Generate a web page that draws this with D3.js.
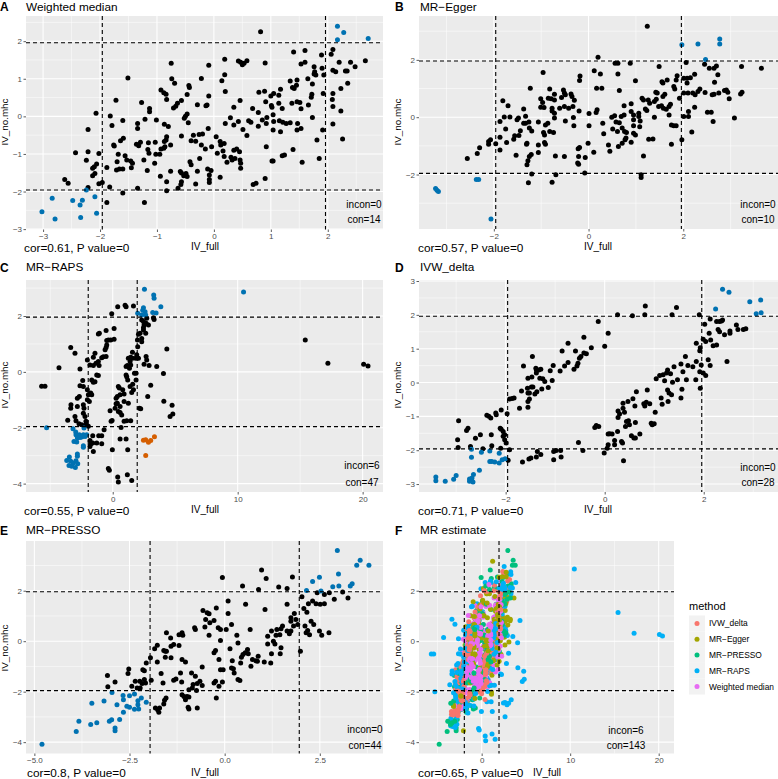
<!DOCTYPE html>
<html><head><meta charset="utf-8"><style>html,body{margin:0;background:#fff}svg{display:block}text{font-family:"Liberation Sans",Arial,sans-serif}</style>
<script src="https://cdn.jsdelivr.net/npm/d3@7"></script></head><body><div id="c"></div><script>
const wmBlue=[[2.17,2.4],[2.28,2.23],[2.17,2.04],[2.71,2.07],[-3.02,-2.54],[-2.84,-2.18],[-2.79,-2.73],[-2.48,-2.24],[-2.31,-2.23],[-2.35,-2.36],[-2.34,-2.69],[-2.09,-2.14],[-2.06,-2.58],[-2.24,-1.96]];
const wmBlack=[[-2.62,-1.68],[-2.56,-1.78],[-2.43,-.97],[-2.24,-1.17],[-2.21,-.94],[-2.21,-.35],[-2.07,.08],[-2.02,-.99],[-2.06,-1.27],[-2.1,-1.34],[-2.13,-1.38],[-2.09,-1.52],[-2.13,-1.58],[-2.21,-1.89],[-2.02,-1.79],[-1.96,-1.76],[-1.88,-1.36],[-1.88,-2.29],[-1.83,-1.88],[-1.82,.01],[-1.79,-.24],[-1.76,-.76],[-1.75,-.79],[-1.72,.43],[-1.71,-1.43],[-1.7,-1.21],[-1.68,-1.01],[-1.64,-.65],[-1.59,-.58],[-1.6,-.11],[-1.6,-2.04],[-1.6,-1.4],[-1.66,-1.4],[-1.56,-1.05],[-1.53,-1.16],[-1.51,1.02],[-1.46,-1.19],[-1.43,-1.25],[-1.45,-1.37],[-1.34,-.19],[-1.34,-.32],[-1.36,-.74],[-1.32,-.78],[-1.34,-1.91],[-1.27,.37],[-1.29,-.69],[-1.22,-2.29],[-1.23,-1.16],[-1.21,-.08],[-1.17,-1.44],[-1.16,-.88],[-1.15,-.7],[-1.13,.21],[-1.13,.12],[-1.14,-.98],[-1.04,-1.25],[-1.03,-.69],[-1.01,-.1],[-1.02,-1.01],[-.95,-1.01],[-.94,-1.59],[-.93,.7],[-.88,.63],[-.93,-.87],[-.88,-.85],[-.86,-.81],[-.87,-.67],[-.87,-.21],[-.84,.59],[-.83,.45],[-.8,-.27],[-.83,-1.98],[-.83,-1.74],[-.83,-.54],[-.84,-.63],[-.76,-.76],[-.76,-1.46],[-.75,1.41],[-.74,1],[-.69,.88],[-.71,.22],[-.67,.27],[-.64,.35],[-.63,-1.91],[-.59,-1.47],[-.57,.42],[-.57,-.52],[-.57,-1.51],[-.57,-1.74],[-.58,-1.81],[-.53,-1.58],[-.52,-.05],[-.5,0],[-.47,.06],[-.47,.58],[-.49,-1.52],[-.47,-1.6],[-.44,.82],[-.43,.77],[-.45,-.17],[-.42,-1.21],[-.4,-1.29],[-.4,-.65],[-.36,-.5],[-.32,-.66],[-.32,-1.8],[-.29,.31],[-.29,-1.46],[-.26,-.48],[-.25,-1.12],[-.22,1.01],[-.2,-.47],[-.22,-.76],[-.15,-.87],[-.14,.28],[-.12,.3],[-.09,1.36],[-.09,.54],[-.1,-.32],[-.11,-1.4],[-.08,-1.56],[-.08,-1.68],[-.08,-1.76],[-.04,-.81],[-.05,-1.44],[.04,-.54],[.06,-.98],[.11,-1.62],[.11,-.67],[.12,-.76],[.14,.95],[.18,-.72],[.19,1.52],[.19,1.11],[.2,.66],[.2,-.19],[.16,-.92],[.18,-1.07],[.23,-1.22],[.29,-.04],[.3,-1.09],[.32,-1.16],[.35,-.23],[.35,.24],[.35,-.9],[.37,-1.12],[.4,-.87],[.43,-.14],[.43,1.47],[.47,1.44],[.5,1.37],[.53,1.41],[.58,1.48],[.46,.42],[.45,-.94],[.46,-1.16],[.47,-1.25],[.47,-1.38],[.51,-.35],[.58,-.51],[.61,-.12],[.65,-.16],[.68,.21],[.69,-1.81],[.74,-1.78],[.78,.1],[.78,-.26],[.79,.64],[.82,2.25],[.85,-.1],[.89,.67],[.9,1.42],[.91,.39],[.9,-1.65],[.92,-.81],[.92,-.19],[.93,-.03],[1,.54],[1.01,.29],[1.02,.24],[1.05,.61],[1.04,.04],[1.05,-.14],[1.04,-.36],[1.02,-1.19],[1.04,-1.19],[1.14,.35],[1.14,.56],[1.17,.72],[1.15,-.12],[1.17,-.41],[1.2,.21],[1.21,-.16],[1.2,-1.05],[1.24,-1.03],[1.27,-.19],[1.34,.94],[1.34,-.17],[1.37,.35],[1.38,.77],[1.4,1.71],[1.39,-.88],[1.41,.74],[1.45,.83],[1.46,.97],[1.46,-.36],[1.46,.39],[1.47,-.19],[1.51,.37],[1.53,-.32],[1.53,1.39],[1.53,.2],[1.55,-1.22],[1.6,1.75],[1.6,1.44],[1.65,1],[1.66,.3],[1.71,.51],[1.72,.59],[1.73,-.03],[1.73,.86],[1.76,1.13],[1.76,1.32],[1.77,1.19],[1.79,1.1],[1.81,-.63],[1.85,-1.12],[1.89,1.63],[1.9,1.28],[1.91,-.36],[1.92,.61],[1.93,1.1],[2.06,1.65],[2.09,1.78],[2.09,.61],[2.08,.45],[2.09,.26],[2.09,-.2],[2.09,1.23],[2.14,1.19],[2.2,1.44],[2.23,.74],[2.23,.14],[2.26,-.6],[2.31,1.21],[2.34,1.21],[2.35,.88],[2.4,1.44],[2.48,1.32],[2.66,1.48]];
const eggerBlue=[[-3.23,-2.49],[-3.2,-2.55],[-3.17,-2.59],[-2.37,-2.17],[-2.32,-2.17],[-2.06,-3.55],[1.97,2.53],[2.31,2.55],[2.77,2.73],[2.77,2.55],[2.47,2.01]];
const eggerBlack=[[-2.56,-1.44],[-2.35,-1.27],[-2.3,-1.07],[-2.11,-.94],[-2.11,-.85],[-2.07,-.79],[-1.96,-.93],[-1.87,-1.14],[-1.87,-.15],[-1.87,-.7],[-1.81,.57],[-1.78,.01],[-1.75,-.41],[-1.73,-.88],[-1.7,.4],[-1.66,.01],[-1.58,-.77],[-1.56,-.65],[-1.53,-1.33],[-1.51,-.09],[-1.48,-.03],[-1.47,-.64],[-1.44,-.47],[-1.37,.29],[-1.37,-.21],[-1.33,.03],[-1.33,-.21],[-1.3,-.91],[-1.31,-.94],[-1.3,-1.66],[-1.28,-1.52],[-1.25,-1.37],[-1.21,-1.3],[-1.27,-2.29],[-1.23,1.01],[-1.25,-.38],[-1.2,-.48],[-1.26,-.17],[-1.2,-1.98],[-1.06,-.17],[-1.06,-.97],[-1.06,-1.23],[-1.01,.64],[-1.01,.35],[-.97,.51],[-.96,1.56],[-.94,.34],[-.95,-.53],[-.93,-.62],[-.93,-.88],[-.91,-.94],[-.91,-.27],[-.86,-.21],[-.85,.66],[-.82,.98],[-.79,.64],[-.77,.31],[-.77,.22],[-.77,-2.27],[-.82,-.5],[-.74,-.53],[-.72,.8],[-.72,.6],[-.72,.14],[-.72,-.03],[-.7,-1.35],[-.69,-2.01],[-.61,.31],[-.57,.69],[-.53,.95],[-.51,.84],[-.51,.37],[-.49,.78],[-.51,-1.37],[-.49,-.13],[-.42,.31],[-.37,.81],[-.35,.72],[-.33,.37],[-.32,-.01],[-.31,-.3],[-.3,.59],[-.22,-1.1],[-.19,-1.06],[-.23,-1.6],[-.21,-1.37],[-.2,.22],[-.19,1.28],[-.18,1.44],[-.21,-1.64],[-.08,-1.95],[-.07,-1.41],[-.01,-.91],[.01,.13],[.01,-.3],[.11,-1.22],[.12,1.62],[.17,1.01],[.16,.16],[.18,.26],[.2,2.09],[.25,1.51],[.28,1.01],[.3,-.21],[.32,-.58],[.42,-.97],[.45,-1.19],[.49,0],[.51,-.41],[.55,.05],[.56,1.88],[.62,1.88],[.62,1.51],[.58,-.17],[.61,-.5],[.63,-1.02],[.65,.93],[.65,-.19],[.69,.02],[.71,-.91],[.71,-.38],[.75,.4],[.75,.08],[.77,-.79],[.76,-.5],[.8,-.53],[.79,-.73],[.88,1.88],[.9,.47],[.9,.2],[.9,-.87],[.95,.08],[.95,-.09],[.95,-.3],[.95,-.56],[.99,1.27],[.99,-.62],[1.06,.14],[1.06,.02],[1.09,-.13],[1.08,-.33],[1.11,-2.01],[1.11,-2.1],[1.13,.66],[1.16,.6],[1.16,-1.35],[1.2,.29],[1.23,.23],[1.24,3.17],[1.26,.6],[1.29,.49],[1.27,-.77],[1.36,-.76],[1.39,0],[1.39,.55],[1.42,.87],[1.45,.84],[1.43,.63],[1.48,.37],[1.49,1.77],[1.55,1.24],[1.57,1.19],[1.57,.72],[1.54,.4],[1.58,.31],[1.61,.8],[1.64,.28],[1.66,1.3],[1.7,.08],[1.7,.37],[1.73,.45],[1.75,-.27],[1.75,-.94],[1.8,-.3],[1.8,1.07],[1.82,.98],[1.85,1.3],[1.85,-.3],[1.87,1.45],[1.92,.66],[1.97,-.79],[2.01,1.36],[2.01,.84],[2.01,.02],[2.06,1.91],[2.08,1.36],[2.08,1.19],[2.1,.84],[2.11,.2],[2.11,.02],[2.15,1.38],[2.18,-.52],[2.2,.84],[2.24,1.5],[2.24,.35],[2.25,.78],[2.31,.9],[2.35,.98],[2.45,1.85],[2.46,.86],[2.51,.17],[2.55,1.71],[2.59,.17],[2.63,-.15],[2.61,.78],[2.65,1.71],[2.66,1.22],[2.7,1.79],[2.65,.8],[2.73,1.48],[2.75,.84],[2.87,.93],[2.91,.95],[2.94,.87],[2.97,.64],[3.08,-.03],[3.21,.81],[3.24,.87],[3.23,1.77],[3.65,1.71]];
const rapsBlue=[[2.54,2.96],[3.28,2.75],[3.31,2.64],[3.85,2.33],[2.46,2.3],[2.4,2.21],[2.59,2.15],[2,2.1],[2.32,2.04],[2.64,2.04],[3.2,2.13],[3.47,2.11],[10.47,2.86],[-5.29,-2],[-3.18,-2.04],[-2.96,-2.15],[-2.94,-2.25],[-2.67,-2.25],[-2.48,-2.33],[-2.35,-2.25],[-2.3,-2.01],[-2.08,-2.25],[-3.1,-2.49],[-2.88,-2.51],[-2.35,-2.64],[-2.35,-2.7],[-2.83,-2.94],[-2.83,-3.02],[-3.47,-3.05],[-3.68,-3.17],[-3.36,-3.2],[-3.5,-3.35],[-3.28,-3.38],[-2.99,-3.42],[-2.8,-3.29],[-3.15,-3.26],[-2.94,-3.18],[-2.83,-2.37],[-2.62,-2.35],[-2.22,-2.31]];
const rapsOrange=[[2.46,-2.45],[2.64,-2.43],[2.86,-2.52],[3.04,-2.46],[3.34,-2.32],[2.64,-2.99]];
const rapsBlack=[[-5.69,-.51],[-5.42,-.51],[-4.3,.15],[-3.36,.87],[-3.02,.67],[-3.6,-1.73],[-3.36,-1.3],[-3.34,-1.18],[-3.02,-1.6],[-2.94,-1.75],[-2.83,-.94],[-2.83,-1.24],[-2.62,.1],[-2.62,-.5],[-2.67,-.88],[-2.7,-1.86],[-2.48,-1.89],[-2.4,-.31],[-2.35,-.52],[-2.35,-1.18],[-2.35,-1.48],[-2.22,-1.6],[-2.3,-1.3],[-2.14,-1.77],[-2.03,.43],[-2.03,-.64],[-1.95,-1.95],[-2.14,-1.89],[-1.95,-.82],[-2.03,-1],[-1.87,-1.06],[-1.82,.25],[-1.68,-.82],[-1.76,-.76],[-1.82,-2.46],[-1.76,-2.58],[-1.82,-2.67],[-1.6,-2.55],[-1.6,-2.29],[-1.55,-2.85],[-1.55,.23],[-1.55,.52],[-1.42,.67],[-1.34,.31],[-1.42,-.35],[-1.68,-.29],[-1.55,-.37],[-1.28,-.11],[-1.15,-.13],[-1.28,-2.55],[-1.12,-2.29],[-1.15,1.36],[-1.07,1.38],[-1.15,.37],[-1.09,.23],[-.88,.51],[-.75,.54],[-.88,-2.29],[-.88,-2.57],[-.53,.55],[-.69,-2.07],[-.61,.79],[-.53,.87],[-.48,.96],[-.53,1.48],[-.48,1.12],[-.35,1.14],[-.16,1.14],[.11,1.17],[.11,1.55],[-.08,2.08],[.4,2.33],[-.03,-2.79],[-.35,-3.46],[-.27,-3.52],[-.21,-1.39],[-.13,-1.77],[-.05,-1.74],[.19,-1.3],[.27,-1.14],[.27,-.94],[.4,-3.76],[.45,-3.94],[.53,-.58],[.59,-.82],[.37,-1.12],[.37,-.88],[.59,-1.24],[.59,-1.45],[.45,-1.42],[.72,-1.54],[.59,-2.4],[.67,-1.99],[.45,-.52],[.8,-.64],[.91,-.79],[.91,-1.06],[1.07,-.11],[1.07,.19],[1.17,.23],[.99,2.39],[1.07,2.33],[1.07,-2.4],[1.17,-3.68],[1.2,-2.79],[1.25,-1.12],[1.12,-.17],[1.2,-.29],[1.39,-.52],[1.25,.49],[1.34,.13],[1.52,-3.89],[1.39,.37],[1.44,.25],[1.44,.52],[1.58,.7],[1.66,2.36],[1.58,.49],[1.74,-.05],[1.6,-.44],[.91,-1.77],[1.12,-1.75],[1.44,-1.75],[1.52,-.74],[1.66,-.64],[1.87,-.29],[1.84,.49],[1.87,-.05],[1.92,.61],[2,.9],[2.06,.49],[2.14,-1.3],[2.24,-1.32],[1.98,1.14],[2.06,1.35],[2.19,1.38],[2.32,1.2],[2.32,1.08],[2.46,1.5],[2.51,1.68],[2.32,1.86],[2.46,1.8],[2.67,1.74],[2.72,1.92],[2.86,1.68],[2.46,1.58],[2.64,1.38],[2.51,.27],[2.67,.55],[2.72,.43],[2.91,.23],[2.8,-.88],[3.04,-.48],[3.52,.19],[4.06,-.06],[4.09,-1.05],[4.33,.82],[4.75,-1.19],[4.59,-1.6],[4.81,-1.51],[15.41,1.14],[17.22,.31],[20.08,.27],[20.43,.21],[3.31,1.88],[3.26,1.94]];
const ivwBlue=[[-3.41,-2.79],[-3.41,-2.9],[-3.22,-2.92],[-3.05,-2.86],[-3,-2.75],[-2.73,-2.85],[-2.73,-2.92],[-2.66,-2.94],[-2.68,-2.82],[-2.65,-2.72],[-2.69,-1.97],[-2.69,-2.21],[-2.53,-2.59],[-2.49,-2.06],[-2.32,-2.02],[-2.32,-2.33],[-2.28,-2.33],[-2.22,-2.35],[-2.13,-2.09],[-2.13,-2.38],[-2.07,-2.28],[-2.01,-2.25],[2.24,2.17],[2.38,2.76],[2.51,2.67],[2.93,2.39],[3.15,2.44],[3.06,2.03],[3.16,2.06]];
const ivwBlack=[[-2.95,-1.13],[-2.97,-1.69],[-2.96,-1.92],[-2.79,-1.42],[-2.76,-1.35],[-2.71,-1.89],[-2.61,-1.65],[-2.51,-1.54],[-2.46,-1.96],[-2.38,-.97],[-2.34,-1],[-2.3,-1.05],[-2.29,-1.54],[-2.28,-1.87],[-2.2,-.9],[-2.19,-.95],[-2.11,-1.35],[-2.09,-1.38],[-2.1,-1.94],[-2.09,-.81],[-2.05,-1.45],[-2.02,-1.54],[-2.05,-1.59],[-2.02,-1.69],[-1.99,-1.79],[-1.97,-.92],[-1.95,-2.3],[-1.92,-1.99],[-1.92,-.49],[-1.87,-.47],[-1.83,-.46],[-1.72,-.76],[-1.68,-.25],[-1.66,-2.35],[-1.64,.49],[-1.56,-.17],[-1.55,.13],[-1.55,-.73],[-1.55,-.56],[-1.52,-.49],[-1.55,-.31],[-1.52,-.31],[-1.53,-2.26],[-1.49,-2.23],[-1.47,.16],[-1.46,.77],[-1.48,-.13],[-1.45,-.13],[-1.41,-.34],[-1.39,.42],[-1.38,.28],[-1.38,.37],[-1.37,-.27],[-1.36,-2.04],[-1.38,-2.2],[-1.33,.37],[-1.29,.39],[-1.31,.13],[-1.29,-2.13],[-1.27,-.19],[-1.25,.11],[-1.21,.03],[-1.14,-.15],[-1.1,.35],[-1.06,.06],[-1.03,-2.04],[-1.03,-2.28],[-1.04,.5],[-.98,-2.01],[-.9,.34],[-.89,-2.01],[-.88,-2.2],[-.86,.93],[-.81,.49],[-.74,1.16],[-.74,.59],[-.62,.39],[-.59,.93],[-.56,.49],[-.54,.57],[-.51,.72],[-.48,.77],[-.53,-1.77],[-.44,-2.01],[-.42,1.34],[-.42,.87],[-.37,.85],[-.27,1.03],[-.2,-1.33],[-.17,-1.27],[-.12,-1.3],[-.13,1.8],[-.01,-2.08],[0,1.07],[.05,-1.94],[.07,1.46],[.07,-1.84],[.07,-1.52],[.1,-1.51],[.15,-1.52],[.2,-1.84],[.2,-1.71],[.26,2],[.26,-1.45],[.27,-.84],[.27,-1.03],[.3,-.93],[.34,-1.74],[.36,-1.79],[.38,-2.31],[.37,-.61],[.37,-.76],[.4,-.88],[.42,-1.3],[.44,-1.15],[.47,-.56],[.48,-1.13],[.5,-1.25],[.54,-1.57],[.56,1.97],[.57,-.48],[.59,-1.64],[.62,-1.64],[.61,-.69],[.62,-1.18],[.64,-.27],[.71,-1.52],[.79,-.63],[.81,-.69],[.81,2],[.82,2.26],[.84,-.58],[.86,-.22],[.91,-.63],[.94,-1.2],[.96,-1.25],[1,-1.22],[1.02,-.88],[1.04,.11],[1.11,.21],[1.14,-.46],[1.16,-.64],[1.18,.23],[1.21,.05],[1.25,.28],[1.27,.37],[1.28,-.56],[1.27,-.22],[1.3,-.31],[1.33,.26],[1.35,-.36],[1.36,2],[1.37,.01],[1.4,.47],[1.45,2.22],[1.47,.08],[1.54,-.46],[1.54,.55],[1.58,.32],[1.56,-.2],[1.63,.77],[1.65,.08],[1.68,.5],[1.78,.47],[1.84,.08],[1.85,.62],[1.85,1.16],[1.92,.94],[1.91,2],[1.93,1.03],[1.92,.32],[1.93,-.17],[1.95,.52],[1.99,1.28],[1.99,.28],[2.02,1.72],[2.04,.21],[2.04,1.21],[2.09,.67],[2.11,1.46],[2.13,1.88],[2.13,.5],[2.14,1.26],[2.19,1.09],[2.26,1.11],[2.26,1.8],[2.29,1.57],[2.32,1.8],[2.36,1.82],[2.38,1.85],[2.32,1.5],[2.42,1.41],[2.47,.62],[2.53,1.46],[2.53,1.52],[2.66,1.7],[2.69,1.57],[2.8,1.57],[2.85,1.59]];
const pressoBlue=[[-4.8,-4.08],[-3.9,-3.58],[-3.83,-3.17],[-3.52,-3.3],[-3.36,-3.23],[-3.49,-2.46],[-3.17,-2.37],[-3.03,-3.17],[-2.97,-3.11],[-2.96,-2.03],[-2.88,-3.44],[-2.88,-3.55],[-2.83,-2.52],[-2.76,-3.1],[-2.67,-2.15],[-2.66,-2.32],[-2.66,-2.82],[-2.57,-2.58],[-2.5,-2.62],[-2.5,-2.16],[-2.37,-2.09],[-2.37,-2.7],[-2.28,-2.52],[-2.26,-2.69],[-2.28,-2.36],[-2.19,-2.25],[-2.06,-2.42],[2.15,2.01],[2.31,2.37],[2.49,2.53],[2.53,1.99],[2.84,2.16],[3,2.19],[2.96,3.59],[2.99,2.66],[3.3,2.19],[3.35,2.28],[3.47,3.01],[3.56,3.21],[3.79,3.01]];
const pressoBlack=[[-3.08,-1.36],[-3.07,-1.81],[-2.88,-1.62],[-2.52,-1.1],[-2.54,-1.28],[-2.44,-1.79],[-2.35,-1.59],[-2.3,-1.85],[-2.23,-1.59],[-2.17,-1.68],[-2.15,-1.13],[-2.11,-1.17],[-2.11,-1.52],[-2.08,-1.66],[-2.22,-1.85],[-2.06,-.86],[-1.95,-.66],[-1.93,-1.55],[-1.82,-2.65],[-1.76,-2.72],[-1.73,-2.82],[-1.71,-2.65],[-1.84,-.3],[-1.77,-.16],[-1.77,-.82],[-1.67,-1.28],[-1.62,-1.66],[-1.6,-.37],[-1.56,-.4],[-1.53,.33],[-1.6,-2.49],[-1.58,-2.34],[-1.54,-2.25],[-1.56,-.64],[-1.53,-.4],[-1.42,.13],[-1.41,-.66],[-1.41,-.2],[-1.34,-.13],[-1.34,-1.55],[-1.28,-1.5],[-1.2,.26],[-1.2,-.17],[-1.16,-1.26],[-1.13,-1.62],[-1.12,.33],[-1.1,.24],[-1.12,-.73],[-1.03,-.82],[-1.12,-2.12],[-1.07,-2.19],[-1.03,-2.32],[-.99,-2.19],[-.94,-1.92],[-.94,-2.21],[-.96,-2.62],[-.94,-2.69],[-.87,-1.26],[-.85,-1.85],[-.79,.53],[-.77,.46],[-.77,-1.39],[-.74,-1.95],[-.72,-2.65],[-.83,-1.72],[-.72,-1.68],[-.65,-1.59],[-.59,-1.76],[-.59,-1.02],[-.57,1.22],[-.5,.86],[-.52,.56],[-.46,1.13],[-.41,1.09],[-.41,.24],[-.39,.73],[-.28,.82],[-.28,-1.66],[-.28,-.46],[-.24,-.37],[-.24,-1.59],[-.22,-2.25],[-.22,1.32],[-.17,.53],[-.15,-1.79],[-.15,-.73],[-.11,-1.13],[-.11,.03],[-.06,2.52],[-.11,.46],[-.06,-1.62],[-.04,-1.13],[.04,.46],[.09,1.59],[.09,1.1],[.14,-.3],[.18,.66],[.2,-.77],[.18,-1.06],[.23,-1.09],[.25,-1.26],[.32,.24],[.35,-.07],[.35,-1.52],[.4,-1.56],[.42,-.86],[.47,2.19],[.44,-.64],[.48,-.53],[.54,-.46],[.55,1.46],[.6,-.33],[.62,-.5],[.69,-.99],[.67,.46],[.73,-.73],[.82,-.77],[.88,-.6],[.86,-.79],[.89,2.05],[.97,2.82],[1.04,-.82],[1.06,1.26],[1.09,2.48],[1.13,.2],[1.13,-.11],[1.21,-.86],[1.23,-.5],[1.23,.4],[1.28,0],[1.32,-.11],[1.35,.24],[1.37,.46],[1.42,2.15],[1.45,.26],[1.48,.49],[1.46,-.5],[1.48,-.26],[1.52,.6],[1.64,2.09],[1.64,.4],[1.64,1.46],[1.7,.29],[1.78,2.54],[1.74,.4],[1.74,.79],[1.74,.93],[1.81,.6],[1.83,1.1],[1.87,.86],[1.92,.66],[1.99,-.4],[2.03,1.76],[2.08,1.3],[2.11,.6],[2.14,.33],[2.18,.42],[2.16,1.15],[2.23,.26],[2.2,1.48],[2.27,.79],[2.31,1.59],[2.34,.66],[2.4,1.48],[2.43,1.92],[2.51,1.46],[2.49,.4],[2.55,.24],[2.62,1.85],[2.62,1.48],[2.74,.33],[2.75,1.92],[2.88,1.66],[3.1,1.95],[3.24,1.71]];

const COL={black:"#000000",blue:"#0072B2",orange:"#D55E00"};
const methodNames=["IVW_delta","MR\u2212Egger","MR\u2212PRESSO","MR\u2212RAPS","Weighted median"];
const methodColors=["#F8766D","#A3A500","#00BF7D","#00B0F6","#E76BF3"];
const methodPoints=[ivwBlack.concat(ivwBlue),eggerBlack.concat(eggerBlue),pressoBlack.concat(pressoBlue),rapsBlack.concat(rapsBlue,rapsOrange),wmBlack.concat(wmBlue)];
const cut=1.96;

const panels=[
 {tag:"A",title:"Weighted median",box:[26,16,383,229.5],xd:[-3.30,2.97],yd:[-3.01,2.67],xt:[-3,-2,-1,0,1,2],yt:[-3,-2,-1,0,1,2],groups:[[wmBlack,COL.black],[wmBlue,COL.blue]],incon:"incon=0",con:"con=14",annX:364,annY:[207.5,223],cor:"cor=0.61, P value=0",corX:24,corY:252,xtX:205,xtY:250,ytX:8,ytY:122,titleX:26,titleY:10.8,tagX:0},
 {tag:"B",title:"MR\u2212Egger",box:[419,16,778,229],xd:[-3.58,4.0],yd:[-3.90,3.53],xt:[-2,0,2],yt:[-2,0,2],groups:[[eggerBlack,COL.black],[eggerBlue,COL.blue]],incon:"incon=0",con:"con=10",annX:758,annY:[207.5,223],cor:"cor=0.57, P value=0",corX:418,corY:252,xtX:598,xtY:250,ytX:401,ytY:122,titleX:420,titleY:10.8,tagX:395},
 {tag:"C",title:"MR\u2212RAPS",box:[26,280,383,492],xd:[-6.94,21.63],yd:[-4.30,3.29],xt:[0,10,20],yt:[-4,-2,0,2],groups:[[rapsBlack,COL.black],[rapsBlue,COL.blue],[rapsOrange,COL.orange]],incon:"incon=6",con:"con=47",annX:362,annY:[469,486],cor:"cor=0.55, P value=0",corX:24,corY:515,xtX:205,xtY:513,ytX:8,ytY:385,titleX:26,titleY:271,tagX:0},
 {tag:"D",title:"IVW_delta",box:[419,280,778,492],xd:[-3.75,3.50],yd:[-3.235,3.03],xt:[-2,0,2],yt:[-3,-2,-1,0,1,2,3],groups:[[ivwBlack,COL.black],[ivwBlue,COL.blue]],incon:"incon=0",con:"con=28",annX:758,annY:[470.5,486],cor:"cor=0.71, P value=0",corX:418,corY:514.5,xtX:598,xtY:513,ytX:401,ytY:385,titleX:420,titleY:271,tagX:395},
 {tag:"E",title:"MR\u2212PRESSO",box:[26,541,383,753.5],xd:[-5.22,4.16],yd:[-4.45,3.97],xt:[-5,-2.5,0,2.5],xf:d3.format(".1f"),yt:[-4,-2,0,2],groups:[[pressoBlack,COL.black],[pressoBlue,COL.blue]],incon:"incon=0",con:"con=44",annX:365,annY:[733,749],cor:"cor=0.8, P value=0",corX:27,corY:776.5,xtX:205,xtY:775.5,ytX:8,ytY:648,titleX:26,titleY:534,tagX:0},
 {tag:"F",title:"MR estimate",box:[419,541,674,753.5],xd:[-7.08,21.73],yd:[-4.45,3.97],xt:[0,10,20],yt:[-4,-2,0,2],methods:true,incon:"incon=6",con:"con=143",annX:626,annY:[734,749],cor:"cor=0.65, P value=0",corX:418,corY:776.5,xtX:547,xtY:775.5,ytX:401,ytY:648,titleX:420,titleY:534,tagX:395}
];

const svg=d3.select("#c").append("svg").attr("width",778).attr("height",779);
const minus=s=>String(s).replace(/-/g,"\u2212");
const mixed=[];
methodPoints.forEach((a,m)=>a.forEach((d,i)=>mixed.push({d,m,i})));
mixed.sort((a,b)=>(a.i%61)-(b.i%61)||(a.i-b.i)||(a.m-b.m));

panels.forEach(p=>{
  const [l,t,r,b]=p.box;
  const x=d3.scaleLinear().domain(p.xd).range([l,r]);
  const y=d3.scaleLinear().domain(p.yd).range([b,t]);
  const g=svg.append("g");
  g.append("rect").attr("x",l).attr("y",t).attr("width",r-l).attr("height",b-t).attr("fill","#EBEBEB");
  const mids=a=>{const st=a[1]-a[0],o=[];for(let v=a[0]-st/2;v<=a[a.length-1]+st/2+1e-9;v+=st)o.push(v);return o;};
  const grid=(vals,isX,w)=>g.append("g").selectAll("line").data(vals.filter(v=>{const d=isX?p.xd:p.yd;return v>d[0]&&v<d[1];})).join("line")
    .attr("x1",d=>isX?x(d):l).attr("x2",d=>isX?x(d):r).attr("y1",d=>isX?t:y(d)).attr("y2",d=>isX?b:y(d)).attr("stroke","#fff").attr("stroke-width",w);
  grid(mids(p.xt),true,.5);grid(mids(p.yt),false,.5);
  grid(p.xt,true,1.05);grid(p.yt,false,1.05);

  const pts=g.append("g");
  if(p.methods){
    pts.selectAll("circle").data(mixed).join("circle")
      .attr("cx",o=>x(o.d[0])).attr("cy",o=>y(o.d[1])).attr("r",2.5).attr("fill",o=>methodColors[o.m]);
  }else{
    p.groups.forEach(([a,c])=>pts.append("g").selectAll("circle").data(a).join("circle")
      .attr("cx",d=>x(d[0])).attr("cy",d=>y(d[1])).attr("r",2.5).attr("fill",c));
  }
  const dash="4 3";
  [-cut,cut].forEach(v=>{
    g.append("line").attr("x1",x(v)).attr("x2",x(v)).attr("y1",t).attr("y2",b).attr("stroke","#000").attr("stroke-width",1.1).attr("stroke-dasharray",dash);
    g.append("line").attr("x1",l).attr("x2",r).attr("y1",y(v)).attr("y2",y(v)).attr("stroke","#000").attr("stroke-width",1.1).attr("stroke-dasharray",dash);
  });
  const xa=d3.axisBottom(x).tickValues(p.xt).tickSize(2.5).tickPadding(1.5).tickFormat(d=>minus(p.xf?p.xf(d):d));
  const ya=d3.axisLeft(y).tickValues(p.yt).tickSize(2.5).tickPadding(1.5).tickFormat(d=>minus(d));
  [g.append("g").attr("transform",`translate(0,${b})`).call(xa),g.append("g").attr("transform",`translate(${l},0)`).call(ya)].forEach(a=>{
    a.select(".domain").remove();
    a.selectAll("line").attr("stroke","#333").attr("stroke-width",.8);
    a.selectAll("text").attr("fill","#4D4D4D").attr("font-size",8).attr("font-family",'"Liberation Sans",Arial,sans-serif');
  });
  const tx=(s,xx,yy,size,anchor,fill)=>g.append("text").attr("x",xx).attr("y",yy).attr("font-size",size).attr("text-anchor",anchor||"start").attr("fill",fill||"#000").text(s);
  tx(p.tag,p.tagX,p.titleY+.5,12,"start").attr("font-weight","bold");
  tx(p.title,p.titleX,p.titleY,11.8);
  tx(p.incon,p.annX,p.annY[0],10,"middle");
  tx(p.con,p.annX,p.annY[1],10,"middle");
  tx(p.cor,p.corX,p.corY,11.8);
  tx("IV_full",p.xtX,p.xtY,10,"middle");
  tx("IV_no.mhc",0,0,9.8,"middle").attr("transform",`translate(${p.ytX},${p.ytY}) rotate(-90)`);
});

const lg=svg.append("g");
lg.append("text").attr("x",689).attr("y",610).attr("font-size",11).text("method");
const keyY=d3.scaleBand().domain(methodNames).range([615.5,694.5]);
lg.selectAll("rect").data(methodNames).join("rect").attr("x",689).attr("y",d=>keyY(d)).attr("width",16).attr("height",keyY.bandwidth()).attr("fill","#F2F2F2");
lg.selectAll("circle").data(methodNames).join("circle").attr("cx",697).attr("cy",d=>keyY(d)+keyY.bandwidth()/2).attr("r",2.5).attr("fill",(d,i)=>methodColors[i]);
lg.selectAll("text.l").data(methodNames).join("text").attr("class","l").attr("x",709).attr("y",d=>keyY(d)+keyY.bandwidth()/2+3).attr("font-size",8.4).text(d=>d);
</script></body></html>
